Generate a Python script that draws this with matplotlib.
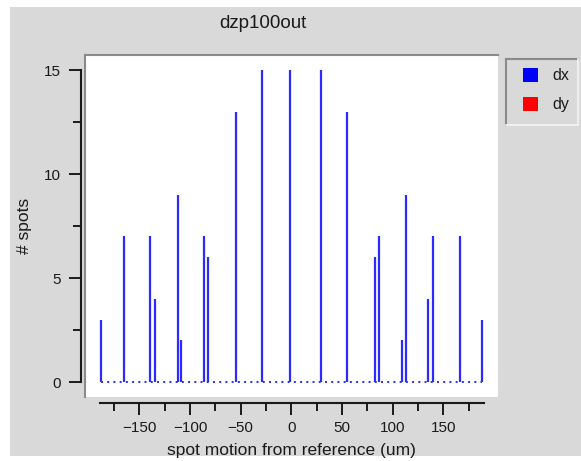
import matplotlib
matplotlib.use("Agg")
import matplotlib.pyplot as plt
from matplotlib.patches import Rectangle
from matplotlib.lines import Line2D
from matplotlib.ticker import FixedLocator

plt.rcParams['font.family'] = ['Liberation Sans', 'DejaVu Sans']

# ---- data ----
title = "dzp100out"
xlabel = "spot motion from reference (um)"
ylabel = "# spots"
series_names = ["dx", "dy"]
series_colors = ["#0000ff", "#ff0000"]
dx_pos = [-188, -165, -139.5, -135, -112, -109, -86, -82, -54.5, -28.5, -1,
          29, 55, 82.5, 87, 109.5, 113, 135, 140, 166, 188.5]
dx_count = [3, 7, 7, 4, 9, 2, 7, 6, 13, 15, 15,
            15, 13, 6, 7, 2, 9, 4, 7, 7, 3]
x_major = [-150, -100, -50, 0, 50, 100, 150]
x_minor = [-175, -125, -75, -25, 25, 75, 125, 175]
y_major = [0, 5, 10, 15]
y_minor = [2.5, 7.5, 12.5]

W, H = 581, 461
DPI = 100
fig = plt.figure(figsize=(W / DPI, H / DPI), dpi=DPI, facecolor="white")

def fx(px):
    return px / W

def fy(py):
    return 1 - py / H

BG = "#d9d9d9"
fig.add_artist(Rectangle((fx(10), fy(456)), fx(581) - fx(10), fy(7) - fy(456),
                         transform=fig.transFigure, facecolor=BG, edgecolor="none", zorder=0))

# plot area
L, R, T, B = 86, 498, 56, 397
ax = fig.add_axes([fx(L), fy(B), fx(R) - fx(L), fy(T) - fy(B)])
ax.set_facecolor("white")

x0, scale_x = 291.3, 1.0133
y0, scale_y = 382.0, 20.8
ax.set_xlim((L - x0) / scale_x, (R - x0) / scale_x)
ax.set_ylim((y0 - B) / scale_y, (y0 - T) / scale_y)

ax.vlines(dx_pos, 0, dx_count, colors="#2b2bff", linewidth=1.6, zorder=3)
ax.hlines(0, min(dx_pos), max(dx_pos), colors="#2b2bff", linewidth=1.4,
          linestyles=(0, (1.0, 2.2)), zorder=2)

for s in ["top", "right"]:
    ax.spines[s].set_visible(False)
ax.spines["left"].set_position(("outward", 5.3 * 72 / DPI))
ax.spines["bottom"].set_position(("outward", 6 * 72 / DPI))
ax.spines["left"].set_bounds(0, 15)
ax.spines["bottom"].set_bounds(-189, 190.5)
for s in ["left", "bottom"]:
    ax.spines[s].set_linewidth(1.5)
    ax.spines[s].set_color("#1a1a1a")

ax.set_xticks(x_major)
ax.set_yticks(y_major)
ax.xaxis.set_minor_locator(FixedLocator(x_minor))
ax.yaxis.set_minor_locator(FixedLocator(y_minor))
ax.tick_params(which="major", direction="out", length=8.6, width=1.4,
               color="#1a1a1a", labelsize=11, labelcolor="#1a1a1a")
ax.tick_params(which="minor", direction="out", length=5.8, width=1.4, color="#1a1a1a")
ax.tick_params(axis="x", which="major", pad=4.5)
ax.tick_params(axis="y", which="major", pad=6)

# sunken border of plot area (top/left)
border_c = "#8a8a8a"
fig.add_artist(Line2D([fx(L - 1), fx(R)], [fy(T - 1), fy(T - 1)], transform=fig.transFigure,
                      color=border_c, linewidth=1.5))
fig.add_artist(Line2D([fx(L - 1), fx(L - 1)], [fy(T - 1), fy(B)], transform=fig.transFigure,
                      color=border_c, linewidth=1.5))

fig.text(fx(263), fy(23), title, ha="center", va="center", fontsize=13.5, color="#1a1a1a")
fig.text(fx(291.5), fy(450), xlabel, ha="center", va="center", fontsize=12.5, color="#1a1a1a")
fig.text(fx(25), fy(226), ylabel, ha="center", va="center", rotation=90, fontsize=12.5,
         color="#1a1a1a")

# legend box
lx0, lx1, ly0, ly1 = 506, 578, 59, 125
fig.add_artist(Line2D([fx(lx0), fx(lx1)], [fy(ly0), fy(ly0)], transform=fig.transFigure,
                      color=border_c, linewidth=1.5))
fig.add_artist(Line2D([fx(lx0), fx(lx0)], [fy(ly0), fy(ly1)], transform=fig.transFigure,
                      color=border_c, linewidth=1.5))
fig.add_artist(Line2D([fx(lx0), fx(lx1)], [fy(ly1), fy(ly1)], transform=fig.transFigure,
                      color="#f4f4f4", linewidth=1.2))
fig.add_artist(Line2D([fx(lx1), fx(lx1)], [fy(ly0), fy(ly1)], transform=fig.transFigure,
                      color="#f4f4f4", linewidth=1.2))
for i, (name, col) in enumerate(zip(series_names, series_colors)):
    cy = 75 + i * 29
    fig.add_artist(Rectangle((fx(523), fy(cy + 7)), fx(15), 14 / H,
                             transform=fig.transFigure, facecolor=col, edgecolor="none"))
    fig.text(fx(552), fy(cy), name, ha="left", va="center", fontsize=11.5, color="#1a1a1a")

fig.savefig("out.png", dpi=DPI, facecolor=fig.get_facecolor())
